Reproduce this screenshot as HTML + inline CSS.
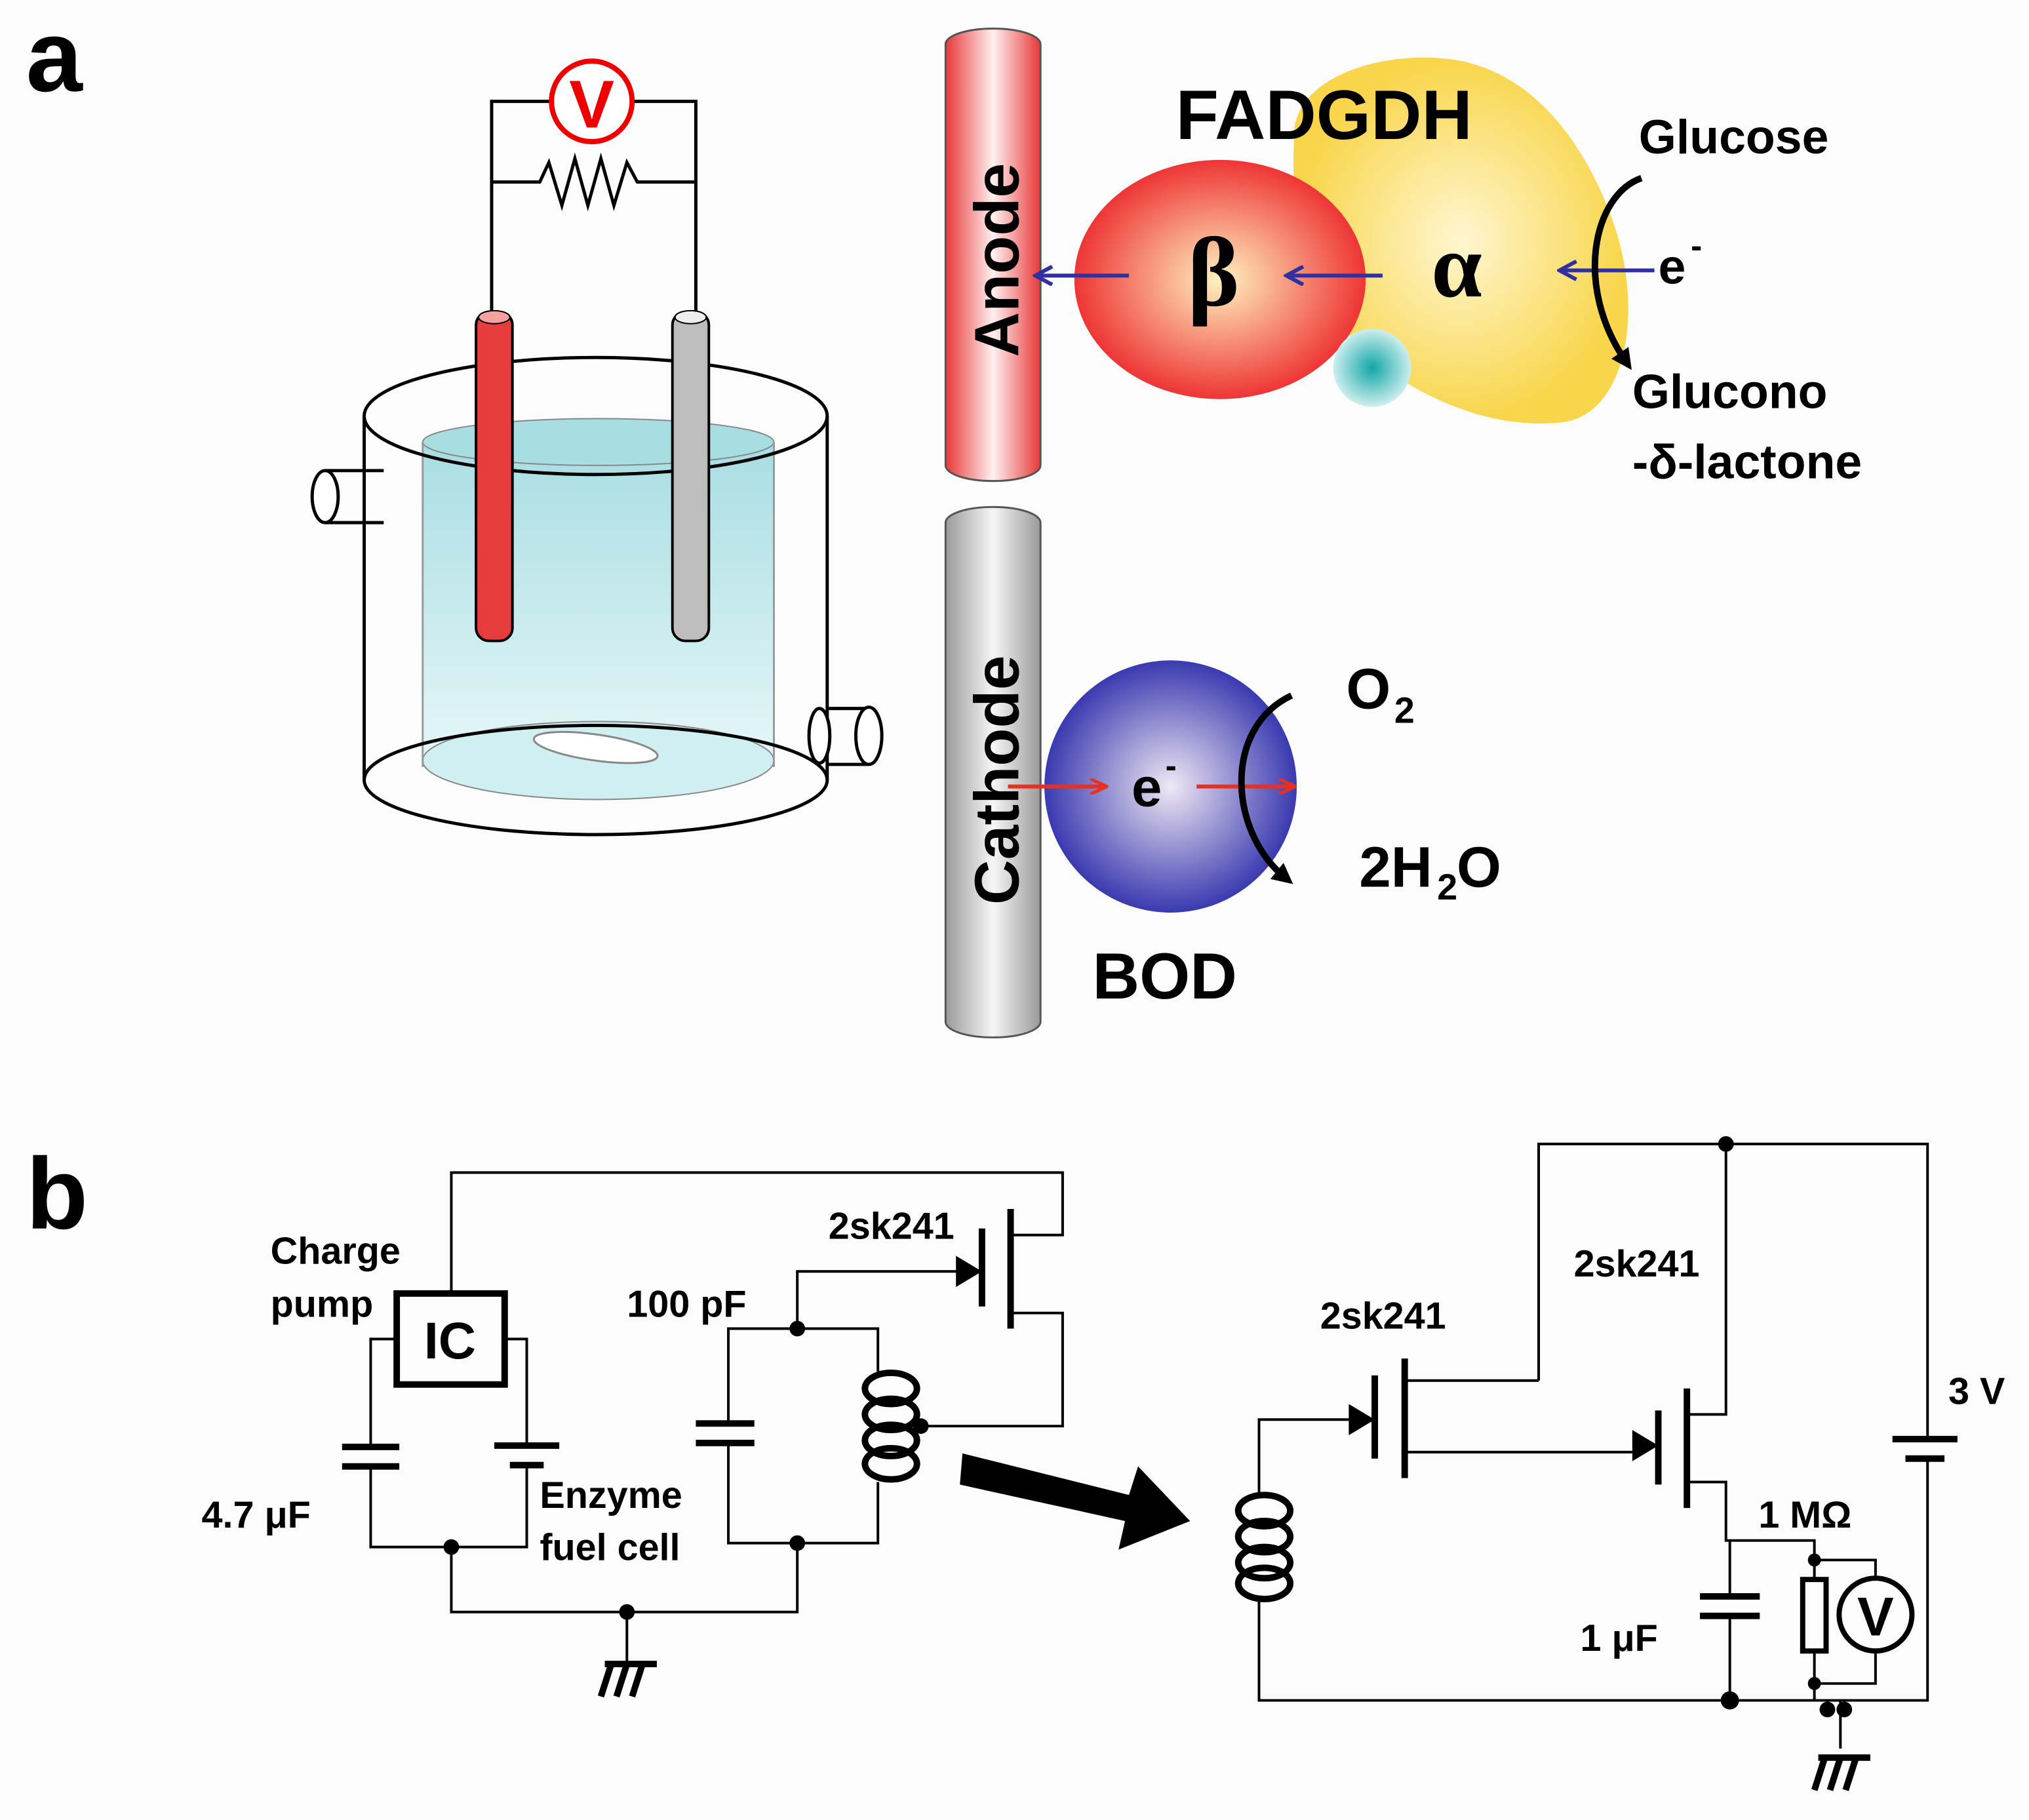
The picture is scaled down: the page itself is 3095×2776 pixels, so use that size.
<!DOCTYPE html>
<html><head><meta charset="utf-8"><style>html,body{margin:0;padding:0;background:#fcfcfc}svg{display:block}text{font-family:"Liberation Sans",sans-serif;font-weight:bold}</style></head>
<body>
<svg width="3095" height="2776" viewBox="0 0 1560 1400" preserveAspectRatio="none" xmlns="http://www.w3.org/2000/svg">
<defs>
<linearGradient id="red" x1="0" x2="1"><stop offset="0" stop-color="#e83838"/><stop offset="0.5" stop-color="#fff0f0"/><stop offset="1" stop-color="#e83838"/></linearGradient>
<linearGradient id="gray" x1="0" x2="1"><stop offset="0" stop-color="#9a9a9a"/><stop offset="0.5" stop-color="#f6f6f6"/><stop offset="1" stop-color="#9a9a9a"/></linearGradient>
<linearGradient id="liq" x1="0" x2="0" y1="0" y2="1"><stop offset="0" stop-color="#a8dde2"/><stop offset="1" stop-color="#e6f7f8"/></linearGradient>
<radialGradient id="yel"><stop offset="0" stop-color="#fff6d0"/><stop offset="1" stop-color="#f8d54a"/></radialGradient>
<radialGradient id="rb"><stop offset="0" stop-color="#fff3c0"/><stop offset="1" stop-color="#ee3535"/></radialGradient>
<radialGradient id="bl"><stop offset="0" stop-color="#f0e8f4"/><stop offset="1" stop-color="#3a3ab0"/></radialGradient>
<radialGradient id="tl"><stop offset="0" stop-color="#12a6a6"/><stop offset="1" stop-color="#cdeeee"/></radialGradient>
<marker id="ab" markerWidth="16" markerHeight="16" refX="13" refY="8" orient="auto" markerUnits="userSpaceOnUse"><path d="M1,1 L14,8 L1,15" fill="none" stroke="#3030a0" stroke-width="3"/></marker>
<marker id="ar" markerWidth="14" markerHeight="12" refX="12" refY="6" orient="auto" markerUnits="userSpaceOnUse"><path d="M0,0 L13,6 L0,12" fill="none" stroke="#e83020" stroke-width="2.5"/></marker>
<marker id="ak" markerWidth="16" markerHeight="16" refX="8" refY="8" orient="auto" markerUnits="userSpaceOnUse"><path d="M0,0 L16,8 L0,16z" fill="#000"/></marker>
</defs>
<rect width="1560" height="1400" fill="#fcfcfc"/>
<text x="20" y="70" font-size="78">a</text>
<text x="20" y="945" font-size="78">b</text>

<!-- beaker -->
<g stroke="#000" stroke-width="2.5" fill="none">
<rect x="325" y="340" width="270" height="250" fill="url(#liq)" stroke="none"/>
<ellipse cx="460" cy="585" rx="135" ry="30" fill="#cfeff0" stroke="#888" stroke-width="1"/>
<ellipse cx="460" cy="340" rx="135" ry="18" fill="#a8dde2" stroke="#888" stroke-width="1"/>
<ellipse cx="458" cy="575" rx="48" ry="10" fill="#fff" stroke="#888" stroke-width="1.5" transform="rotate(8 458 575)"/>
<path d="M325,340 V590 M595,340 V590" stroke="#999" stroke-width="1.5"/>
<ellipse cx="458" cy="320" rx="178" ry="45"/>
<ellipse cx="458" cy="600" rx="178" ry="42"/>
<path d="M280,320 V600 M636,320 V600"/>
<path d="M280,362 H250 M280,402 H250"/><ellipse cx="250" cy="382" rx="10" ry="20" fill="#fff"/><path d="M280,362 H295 M280,402 H295"/>
<path d="M636,545 H668 M636,588 H668"/><ellipse cx="668" cy="566" rx="10" ry="22" fill="#fff"/><ellipse cx="630" cy="566" rx="8" ry="21" fill="#fff"/>
<path d="M378,240 V78 H423 M487,78 H535 V240 M378,140 H415 L422,125 L432,158 L442,122 L452,158 L462,122 L472,158 L482,125 L490,140 H535"/>
</g>
<rect x="366" y="240" width="28" height="253" rx="10" fill="#e53c3c" stroke="#000" stroke-width="2"/>
<ellipse cx="380" cy="244" rx="12" ry="5" fill="#f8a0a0" stroke="#000"/>
<rect x="517" y="240" width="28" height="253" rx="10" fill="#bdbdbd" stroke="#000" stroke-width="2"/>
<ellipse cx="531" cy="244" rx="12" ry="5" fill="#eee" stroke="#000"/>
<circle cx="455" cy="78" r="31" fill="#fff" stroke="#e00" stroke-width="4"/>
<text x="455" y="98" font-size="52" fill="#e00" text-anchor="middle">V</text>

<!-- electrodes -->
<rect x="727" y="22" width="73" height="348" rx="36" ry="12" fill="url(#red)" stroke="#555" stroke-width="1.5"/>
<rect x="727" y="390" width="73" height="408" rx="36" ry="12" fill="url(#gray)" stroke="#555" stroke-width="1.5"/>
<text transform="translate(783,200) rotate(-90)" font-size="48" text-anchor="middle">Anode</text>
<text transform="translate(783,600) rotate(-90)" font-size="48" text-anchor="middle">Cathode</text>

<!-- enzyme -->
<path d="M995,110 C990,60 1060,40 1110,45 C1170,50 1215,100 1240,170 C1265,240 1250,320 1200,325 C1150,330 1100,310 1060,280 C1020,250 990,180 995,110z" fill="url(#yel)"/>
<ellipse cx="938" cy="215" rx="112" ry="92" fill="url(#rb)"/>
<circle cx="1055" cy="283" r="30" fill="url(#tl)"/>
<text x="1018" y="107" font-size="54" text-anchor="middle">FADGDH</text>
<text x="933" y="235" font-size="76" text-anchor="middle" style="font-family:'Liberation Serif',serif;font-weight:bold">β</text>
<text x="1120" y="228" font-size="70" text-anchor="middle" style="font-family:'Liberation Serif',serif;font-weight:bold">α</text>
<g stroke="#3030a0" stroke-width="3" marker-end="url(#ab)"><line x1="868" y1="212" x2="797" y2="212"/><line x1="1063" y1="212" x2="990" y2="212"/><line x1="1272" y1="208" x2="1200" y2="208"/></g>
<text x="1275" y="218" font-size="38">e</text><text x="1300" y="198" font-size="26">-</text>
<text x="1260" y="118" font-size="37">Glucose</text>
<text x="1255" y="314" font-size="37">Glucono</text>
<text x="1255" y="368" font-size="37">-δ-lactone</text>
<path d="M1262,137 C1225,150 1210,220 1250,278" fill="none" stroke="#000" stroke-width="5" marker-end="url(#ak)"/>

<circle cx="900" cy="605" r="97" fill="url(#bl)"/>
<text x="870" y="620" font-size="42">e</text><text x="896" y="598" font-size="26">-</text>
<g stroke="#e83020" stroke-width="3" marker-end="url(#ar)"><line x1="775" y1="605" x2="850" y2="605"/><line x1="920" y1="605" x2="995" y2="605"/></g>
<path d="M993,535 C940,560 945,640 988,675" fill="none" stroke="#000" stroke-width="5" marker-end="url(#ak)"/>
<text x="1035" y="545" font-size="44">O</text><text x="1072" y="556" font-size="28">2</text>
<text x="1045" y="682" font-size="44">2H</text><text x="1105" y="692" font-size="28">2</text><text x="1120" y="682" font-size="44">O</text>
<text x="840" y="768" font-size="50">BOD</text>

<!-- circuit b left -->
<g stroke="#000" stroke-width="2" fill="none">
<path d="M347,995 V902 H817 V950 H777 M777,1010 H817 V1097 H708"/>
<rect x="305" y="995" width="83" height="70" stroke-width="5"/>
<path d="M305,1030 H285 V1113 M285,1128 V1190 H405 V1127 M388,1030 H405 V1112"/>
<path d="M263,1113 H307 M263,1128 H307" stroke-width="5"/>
<path d="M380,1112 H430 M392,1127 H418" stroke-width="5"/>
<path d="M347,1190 V1240 H613 V1187 M482,1240 V1278"/>
<path d="M613,1187 H675 V1140 M613,1187 H560 V1110 M560,1095 V1022 H675 V1055 M613,1022 V978 H740"/>
<path d="M535,1095 H580 M535,1110 H580" stroke-width="5"/>
<g stroke-width="5"><ellipse cx="685" cy="1068" rx="20" ry="12"/><ellipse cx="685" cy="1088" rx="20" ry="12"/><ellipse cx="685" cy="1108" rx="20" ry="12"/><ellipse cx="685" cy="1126" rx="20" ry="12"/></g>
<path d="M708,1097 H700"/>
<path d="M755,945 V1005 M777,930 V1022" stroke-width="5"/>
<path d="M465,1280 H505 M470,1280 L462,1305 M482,1280 L474,1305 M494,1280 L486,1305" stroke-width="5"/>
</g>
<path d="M735,966 L755,978 L735,990z" fill="#000"/>
<g fill="#000"><circle cx="347" cy="1190" r="6"/><circle cx="482" cy="1240" r="6"/><circle cx="613" cy="1022" r="6"/><circle cx="613" cy="1187" r="6"/><circle cx="708" cy="1097" r="6"/></g>
<text x="346" y="1045" font-size="40" font-weight="normal" text-anchor="middle">IC</text>
<text x="208" y="972" font-size="29">Charge</text><text x="208" y="1013" font-size="29">pump</text>
<text x="155" y="1175" font-size="29">4.7 μF</text>
<text x="415" y="1160" font-size="29">Enzyme</text><text x="415" y="1200" font-size="29">fuel cell</text>
<text x="482" y="1013" font-size="29">100 pF</text>
<text x="637" y="953" font-size="29">2sk241</text>
<path d="M740,1118 L868,1150 L875,1128 L915,1170 L860,1192 L865,1170 L738,1142z" fill="#000"/>

<!-- circuit b right -->
<g stroke="#000" stroke-width="2" fill="none">
<path d="M1183,1062 V880 H1482 V1107 M1482,1122 V1308 H968 V1228 M968,1148 V1092 H1040"/>
<path d="M1080,1062 H1183 M1080,1117 H1255 M1327,880 V1088 H1297 M1297,1140 H1327 V1185 H1395 V1215 M1330,1185 V1228 M1330,1243 V1308 M1395,1270 V1308 M1395,1200 H1442 V1214 M1442,1270 V1295 H1395 M1415,1308 V1345"/>
<path d="M1455,1107 H1505 M1465,1122 H1495" stroke-width="5"/>
<path d="M1307,1228 H1353 M1307,1243 H1353" stroke-width="5"/>
<rect x="1386" y="1215" width="18" height="55" stroke-width="4"/>
<circle cx="1442" cy="1242" r="28" stroke-width="4"/>
<path d="M1057,1058 V1122 M1080,1045 V1137 M1275,1085 V1142 M1297,1068 V1160" stroke-width="5"/>
<g stroke-width="5"><ellipse cx="972" cy="1162" rx="20" ry="12"/><ellipse cx="972" cy="1182" rx="20" ry="12"/><ellipse cx="972" cy="1202" rx="20" ry="12"/><ellipse cx="972" cy="1218" rx="20" ry="12"/></g>
<path d="M1398,1352 H1438 M1403,1352 L1395,1377 M1415,1352 L1407,1377 M1427,1352 L1419,1377" stroke-width="5"/>
</g>
<path d="M1037,1080 L1057,1092 L1037,1104z" fill="#000"/>
<path d="M1255,1100 L1275,1112 L1255,1124z" fill="#000"/>
<g fill="#000"><circle cx="1327" cy="880" r="6"/><circle cx="1330" cy="1308" r="7"/><circle cx="1395" cy="1200" r="5"/><circle cx="1395" cy="1295" r="5"/><circle cx="1405" cy="1315" r="6"/><circle cx="1418" cy="1315" r="6"/></g>
<text x="1442" y="1258" font-size="42" font-weight="normal" text-anchor="middle">V</text>
<text x="1015" y="1022" font-size="29">2sk241</text>
<text x="1210" y="982" font-size="29">2sk241</text>
<text x="1498" y="1080" font-size="29">3 V</text>
<text x="1352" y="1175" font-size="29">1 MΩ</text>
<text x="1215" y="1270" font-size="29">1 μF</text>
</svg>
</body></html>
